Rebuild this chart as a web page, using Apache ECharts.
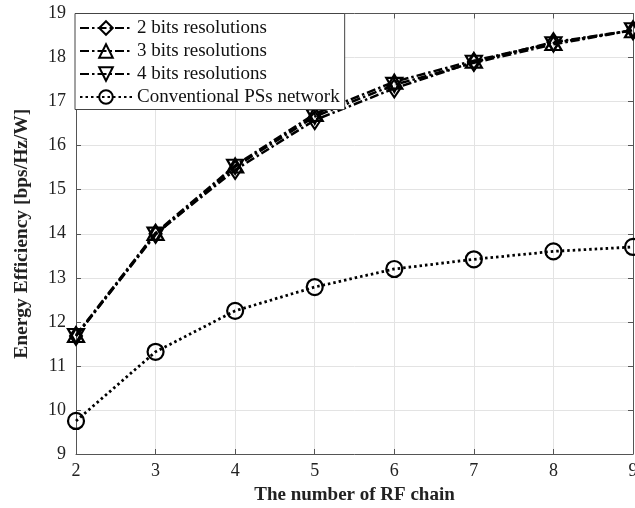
<!DOCTYPE html>
<html><head><meta charset="utf-8">
<script src="https://cdn.jsdelivr.net/npm/echarts@6/dist/echarts.min.js"></script>
<style>html,body{margin:0;padding:0;background:#fff}#c{width:635px;height:508px}</style>
</head><body><div id="c"></div>
<script>
const categories = [2, 3, 4, 5, 6, 7, 8, 9];
const bits2 = [11.68, 14.0, 15.45, 16.58, 17.3, 17.9, 18.35, 18.62];
const bits3 = [11.7, 14.02, 15.55, 16.72, 17.45, 17.93, 18.33, 18.62];
const bits4 = [11.68, 13.98, 15.52, 16.66, 17.38, 17.88, 18.3, 18.62];
const conventional = [9.75, 11.32, 12.25, 12.79, 13.2, 13.42, 13.6, 13.7];
const seriesNames = ['2 bits resolutions', '3 bits resolutions', '4 bits resolutions', 'Conventional PSs network'];
const yTicks = [9, 10, 11, 12, 13, 14, 15, 16, 17, 18, 19];

const serif = '"Liberation Serif", "DejaVu Serif", serif';
const axisColor = '#555';
const pair = a => a.map((v, i) => [categories[i], v]);
const dashDot = [9, 3, 2.5, 3];

function mk(name, data, symbol, size, rotate, lineType, width) {
  return {
    name: name, type: 'line', data: pair(data),
    symbol: symbol, symbolSize: size, symbolRotate: rotate,
    lineStyle: { color: '#000', width: width, type: lineType },
    itemStyle: { color: 'rgba(255,255,255,0)', borderColor: '#000', borderWidth: 2.2 },
    emphasis: { disabled: true }, animation: false, z: 3
  };
}

const chart = echarts.init(document.getElementById('c'));
chart.setOption({
  animation: false,
  grid: { left: 76, right: 2, top: 13.5, bottom: 54, outerBoundsMode: 'none', containLabel: false },
  legend: {
    left: 75, top: 13.5, orient: 'vertical',
    backgroundColor: '#fff', borderColor: '#444', borderWidth: 1,
    padding: [5, 5, 3, 4], itemWidth: 52, itemHeight: 17, itemGap: 4,
    textStyle: { fontFamily: serif, fontSize: 19, color: '#111' },
    data: seriesNames
  },
  xAxis: [{
    type: 'value', min: 2, max: 9, interval: 1,
    axisLine: { lineStyle: { color: axisColor, width: 1 } },
    axisTick: { inside: true, length: 5, lineStyle: { color: axisColor } },
    axisLabel: { fontFamily: serif, fontSize: 18, color: '#222', margin: 8 },
    splitLine: { show: true, lineStyle: { color: '#e3e3e3' } },
    name: 'The number of RF chain', nameLocation: 'middle', nameGap: 32,
    nameTextStyle: { fontFamily: serif, fontSize: 19, fontWeight: 'bold', color: '#222' }
  }, {
    type: 'value', position: 'top', min: 2, max: 9, interval: 1,
    axisLine: { show: true, lineStyle: { color: axisColor } },
    axisTick: { show: true, inside: true, length: 5, lineStyle: { color: axisColor } },
    axisLabel: { show: false }, splitLine: { show: false }
  }],
  yAxis: [{
    type: 'value', min: 9, max: 19, interval: 1,
    axisLine: { show: true, lineStyle: { color: axisColor } },
    axisTick: { show: true, inside: true, length: 5, lineStyle: { color: axisColor } },
    axisLabel: { fontFamily: serif, fontSize: 18, color: '#222', margin: 10,
      formatter: v => yTicks.includes(v) ? String(v) : '' },
    splitLine: { show: true, lineStyle: { color: '#e3e3e3' } },
    name: 'Energy Efficiency [bps/Hz/W]', nameLocation: 'middle', nameGap: 44,
    nameTextStyle: { fontFamily: serif, fontSize: 19.5, fontWeight: 'bold', color: '#222' }
  }, {
    type: 'value', position: 'right', min: 9, max: 19, interval: 1,
    axisLine: { show: true, lineStyle: { color: axisColor } },
    axisTick: { show: true, inside: true, length: 5, lineStyle: { color: axisColor } },
    axisLabel: { show: false }, splitLine: { show: false }
  }],
  series: [
    mk(seriesNames[0], bits2, 'diamond', [12, 18], 0, dashDot, 2.5),
    mk(seriesNames[1], bits3, 'triangle', [16, 14], 0, dashDot, 2.5),
    mk(seriesNames[2], bits4, 'triangle', [16, 14], 180, dashDot, 2.5),
    mk(seriesNames[3], conventional, 'circle', 16, 0, [2.5, 3], 2.8)
  ]
});
</script></body></html>
